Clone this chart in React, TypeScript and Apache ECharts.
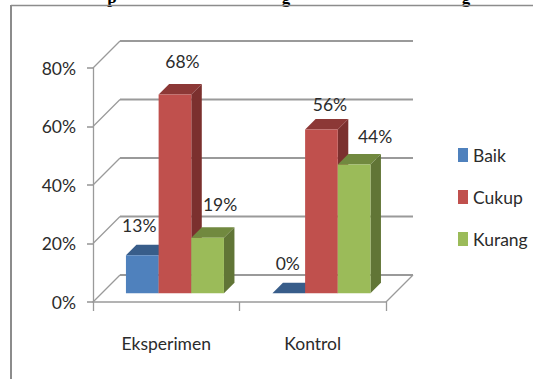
import React, { useEffect, useRef } from "react";
import * as echarts from "echarts";

const categories = ["Eksperimen", "Kontrol"];
const baik = [13, 0];
const cukup = [68, 56];
const kurang = [19, 44];
const ticks = [0, 20, 40, 60, 80];

const FONT = "Lato, sans-serif";
const FONT_SIZE = 17.5;
const TEXT = "#2b2b2b";
const RULE = "#9a9a9a";

// Oblique projection of the chart box and of the bars inside it.
const WALL_DEPTH = 27;
const BAR_INSET = 8.7;
const BAR_DEPTH = 10.5;
const BAR_SHARE = 0.223;

// Hand placement of the value labels, relative to each bar's front top centre.
const labelNudge = [
  [[-3, -30], [-1, -30]],
  [[7.5, -33], [8.5, -25]],
  [[12.5, -33], [21, -28]],
];

const palette = [
  { name: "Baik", values: baik, front: "#4f81bd", top: "#385d8a", side: "#2f4d73" },
  { name: "Cukup", values: cukup, front: "#c0504d", top: "#8c3836", side: "#7b302e" },
  { name: "Kurang", values: kurang, front: "#9bbb59", top: "#71893f", side: "#617536" },
];

const wallSeries = {
  type: "custom",
  silent: true,
  data: ticks.map((t) => [0, t]),
  encode: { x: 0, y: 1 },
  renderItem: (params: any, api: any) => {
    const box = params.coordSys;
    const y = api.coord([0, api.value(1)])[1];
    const left = box.x;
    const right = box.x + box.width;
    const children: any[] = [
      {
        type: "line",
        shape: { x1: left, y1: y, x2: left + WALL_DEPTH, y2: y - WALL_DEPTH },
        style: { stroke: RULE, lineWidth: 1.3 },
      },
      {
        type: "line",
        shape: { x1: left + WALL_DEPTH, y1: y - WALL_DEPTH, x2: right + WALL_DEPTH, y2: y - WALL_DEPTH },
        style: { stroke: RULE, lineWidth: 2 },
      },
    ];
    if (api.value(1) === 0) {
      children.push({
        type: "line",
        shape: { x1: right, y1: y, x2: right + WALL_DEPTH, y2: y - WALL_DEPTH },
        style: { stroke: RULE, lineWidth: 1.3 },
      });
    }
    return { type: "group", children };
  },
};

function barSeries(entry: (typeof palette)[number], seriesIndex: number) {
  return {
    type: "custom",
    name: entry.name,
    silent: true,
    itemStyle: { color: entry.front },
    data: entry.values.map((v, i) => [i, v]),
    encode: { x: 0, y: 1 },
    renderItem: (_params: any, api: any) => {
      const index = api.value(0);
      const value = api.value(1);
      const band = api.size([1, 0])[0];
      const width = band * BAR_SHARE;
      const [cx, yTop] = api.coord([index, value]);
      const yBase = api.coord([index, 0])[1] - BAR_INSET;
      const top = yTop - BAR_INSET;
      const x0 = cx + BAR_INSET + (seriesIndex - 1.5) * width;
      const x1 = x0 + width;
      const d = BAR_DEPTH;
      const [nx, ny] = labelNudge[seriesIndex][index];
      return {
        type: "group",
        children: [
          {
            type: "polygon",
            shape: { points: [[x1, top], [x1 + d, top - d], [x1 + d, yBase - d], [x1, yBase]] },
            style: { fill: entry.side },
          },
          {
            type: "polygon",
            shape: { points: [[x0, top], [x0 + d, top - d], [x1 + d, top - d], [x1, top]] },
            style: { fill: entry.top },
          },
          {
            type: "rect",
            shape: { x: x0, y: top, width, height: yBase - top },
            style: { fill: entry.front },
          },
          {
            type: "text",
            style: {
              text: `${value}%`,
              x: x0 + width / 2 + nx,
              y: top + ny,
              align: "center",
              verticalAlign: "middle",
              fill: TEXT,
              font: `${FONT_SIZE}px ${FONT}`,
            },
          },
        ],
      };
    },
  };
}

// The heading sits above the top edge of the page; only its descenders show.
const headingStubs = [
  { text: "p", x: 112 },
  { text: "g", x: 286 },
  { text: "g", x: 466 },
].map((s) => ({
  type: "text",
  x: s.x,
  y: -11,
  style: {
    text: s.text,
    align: "center",
    verticalAlign: "top",
    fill: "#000",
    font: "bold 17px 'Liberation Serif', serif",
  },
}));

export default function App() {
  const ref = useRef<HTMLDivElement>(null);

  useEffect(() => {
    const chart = echarts.init(ref.current!, undefined, { renderer: "svg" });
    chart.setOption({
      animation: false,
      backgroundColor: "#fff",
      grid: { left: 93, top: 68, width: 293, height: 234 },
      legend: {
        orient: "vertical",
        left: 458,
        top: 146,
        padding: 0,
        itemWidth: 10,
        itemHeight: 14,
        itemGap: 24,
        itemStyle: { borderWidth: 0 },
        textStyle: { fontFamily: FONT, fontSize: FONT_SIZE, color: TEXT },
        data: palette.map((p) => ({ name: p.name, icon: "rect" })),
      },
      xAxis: {
        type: "category",
        data: categories,
        axisLine: { lineStyle: { color: RULE, width: 1.6 } },
        axisTick: { show: true, length: 9, alignWithLabel: false, lineStyle: { color: RULE, width: 1.3 } },
        axisLabel: { margin: 32, color: TEXT, fontFamily: FONT, fontSize: FONT_SIZE },
      },
      yAxis: {
        type: "value",
        min: 0,
        max: 80,
        interval: 20,
        axisLine: { show: true, lineStyle: { color: RULE, width: 1.3 } },
        axisTick: { show: true, length: 6, lineStyle: { color: RULE, width: 1.6 } },
        splitLine: { show: false },
        axisLabel: { margin: 17, color: TEXT, fontFamily: FONT, fontSize: FONT_SIZE, formatter: "{value}%" },
      },
      series: [wallSeries, ...palette.map((p, i) => barSeries(p, i))],
      graphic: [
        ...headingStubs,
        {
          type: "line",
          shape: { x1: 11, y1: 5.5, x2: 533, y2: 5.5 },
          style: { stroke: "#8c8c8c", lineWidth: 1.5 },
        },
        {
          type: "line",
          shape: { x1: 11, y1: 5, x2: 11, y2: 379 },
          style: { stroke: "#8c8c8c", lineWidth: 2 },
        },
      ],
    });
    return () => chart.dispose();
  }, []);

  return <div ref={ref} style={{ position: "absolute", left: 0, top: 0, width: 533, height: 379 }} />;
}
